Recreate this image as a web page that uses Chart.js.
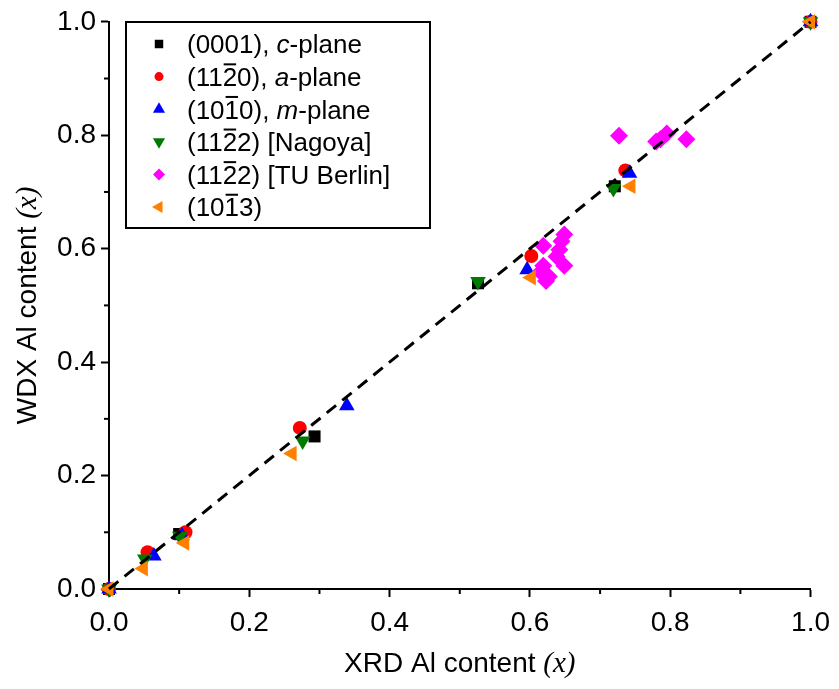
<!DOCTYPE html>
<html>
<head>
<meta charset="utf-8">
<script src="https://cdn.jsdelivr.net/npm/chart.js@4/dist/chart.umd.min.js"></script>
<style>
  html, body { margin: 0; padding: 0; background: #fff; }
</style>
</head>
<body>
<canvas id="chart" width="839" height="689"></canvas>
<script>
// XRD vs WDX Al content, one pair of arrays per orientation
const cPlaneX = [0, 0.100, 0.293, 0.526, 0.721, 1.0];
const cPlaneY = [0, 0.097, 0.269, 0.539, 0.710, 1.0];

const aPlaneX = [0, 0.055, 0.109, 0.272, 0.602, 0.736, 1.0];
const aPlaneY = [0, 0.065, 0.100, 0.284, 0.587, 0.738, 1.0];

const mPlaneX = [0, 0.064, 0.104, 0.339, 0.596, 0.742, 1.0];
const mPlaneY = [0, 0.058, 0.094, 0.323, 0.563, 0.733, 1.0];

const nagoyaX = [0, 0.051, 0.101, 0.276, 0.526, 0.719, 1.0];
const nagoyaY = [0, 0.053, 0.093, 0.261, 0.542, 0.706, 1.0];

const berlinX = [0.619, 0.649, 0.645, 0.642, 0.649, 0.619, 0.627, 0.615, 0.638, 0.623, 0.727, 0.780, 0.786, 0.795, 0.823];
const berlinY = [0.605, 0.625, 0.613, 0.598, 0.570, 0.570, 0.551, 0.559, 0.586, 0.543, 0.799, 0.789, 0.793, 0.803, 0.793];

const r1013X = [0, 0.049, 0.108, 0.261, 0.602, 0.744, 1.0];
const r1013Y = [0, 0.036, 0.081, 0.239, 0.549, 0.710, 1.0];

const guideX = [0, 1];
const guideY = [0, 1];

const xTitle = ['XRD Al content ', '(x)'];
const yTitle = ['WDX Al content ', '(x)'];

// legend text pieces: plain, italic (it) or overlined (ov)
const legendLabels = [
  [{ t: '(0001), ' }, { t: 'c', it: true }, { t: '-plane' }],
  [{ t: '(11' }, { t: '2', ov: true }, { t: '0), ' }, { t: 'a', it: true }, { t: '-plane' }],
  [{ t: '(10' }, { t: '1', ov: true }, { t: '0), ' }, { t: 'm', it: true }, { t: '-plane' }],
  [{ t: '(11' }, { t: '2', ov: true }, { t: '2) [Nagoya]' }],
  [{ t: '(11' }, { t: '2', ov: true }, { t: '2) [TU Berlin]' }],
  [{ t: '(10' }, { t: '1', ov: true }, { t: '3)' }]
];

const pairs = (xs, ys) => xs.map((x, i) => ({ x, y: ys[i] }));

const series = [
  { data: pairs(cPlaneX, cPlaneY), color: '#000000', style: 'rect', radius: 8.5, rot: 0, legR: 6 },
  { data: pairs(aPlaneX, aPlaneY), color: '#ff0000', style: 'circle', radius: 7, rot: 0, legR: 4.5 },
  { data: pairs(mPlaneX, mPlaneY), color: '#0000ff', style: 'triangle', radius: 9, rot: 0, legR: 7 },
  { data: pairs(nagoyaX, nagoyaY), color: '#007a00', style: 'triangle', radius: 9, rot: 180, legR: 7 },
  { data: pairs(berlinX, berlinY), color: '#ff00ff', style: 'rectRot', radius: 9, rot: 0, legR: 6 },
  { data: pairs(r1013X, r1013Y), color: '#ff8000', style: 'triangle', radius: 9, rot: 270, legR: 7 }
];

const SANS = '"Liberation Sans", Arial, sans-serif';
const SERIF = '"Liberation Serif", "Times New Roman", serif';

function marker(ctx, style, r, rot, x, y) {
  ctx.save();
  ctx.translate(x, y);
  ctx.rotate(rot * Math.PI / 180);
  ctx.beginPath();
  if (style === 'rect') {
    const s = r * Math.SQRT1_2;
    ctx.rect(-s, -s, 2 * s, 2 * s);
  } else if (style === 'circle') {
    ctx.arc(0, 0, r, 0, Math.PI * 2);
  } else if (style === 'triangle') {
    for (let k = 0; k < 3; k++) {
      const a = -Math.PI / 2 + k * 2 * Math.PI / 3;
      const px = Math.cos(a) * r, py = Math.sin(a) * r;
      k ? ctx.lineTo(px, py) : ctx.moveTo(px, py);
    }
    ctx.closePath();
  } else if (style === 'rectRot') {
    ctx.moveTo(0, -r); ctx.lineTo(r, 0); ctx.lineTo(0, r); ctx.lineTo(-r, 0);
    ctx.closePath();
  }
  ctx.fill();
  ctx.restore();
}

const extras = {
  id: 'extras',
  afterDraw(chart) {
    const ctx = chart.ctx;
    const xs = chart.scales.x, ys = chart.scales.y;
    ctx.save();

    // minor ticks
    ctx.strokeStyle = '#000';
    ctx.lineWidth = 2;
    [0.1, 0.3, 0.5, 0.7, 0.9].forEach(v => {
      const px = xs.getPixelForValue(v);
      ctx.beginPath(); ctx.moveTo(px, xs.top); ctx.lineTo(px, xs.top + 5); ctx.stroke();
      const py = ys.getPixelForValue(v);
      ctx.beginPath(); ctx.moveTo(ys.right, py); ctx.lineTo(ys.right - 5, py); ctx.stroke();
    });

    // axis titles with serif (x)
    const title = (parts, cx, cy, angle) => {
      ctx.save();
      ctx.translate(cx, cy);
      ctx.rotate(angle);
      ctx.fillStyle = '#000';
      ctx.textBaseline = 'middle';
      ctx.font = '28px ' + SANS;
      const w1 = ctx.measureText(parts[0]).width;
      ctx.font = 'italic 29px ' + SERIF;
      const w2 = ctx.measureText(parts[1]).width;
      let x0 = -(w1 + w2) / 2;
      ctx.font = '28px ' + SANS;
      ctx.fillText(parts[0], x0, 0);
      ctx.font = 'italic 29px ' + SERIF;
      ctx.fillText(parts[1], x0 + w1, 0);
      ctx.restore();
    };
    title(xTitle, (xs.left + xs.right) / 2, 664, 0);
    title(yTitle, 28, (ys.top + ys.bottom) / 2, -Math.PI / 2);

    // legend box
    const bx = 126, by = 22, bw = 304, bh = 206;
    ctx.fillStyle = '#fff';
    ctx.fillRect(bx, by, bw, bh);
    ctx.strokeStyle = '#000';
    ctx.lineWidth = 2;
    ctx.strokeRect(bx, by, bw, bh);

    const fs = 26;
    legendLabels.forEach((parts, i) => {
      const rowY = 44 + i * 32.6;
      const s = series[i];
      ctx.fillStyle = s.color;
      marker(ctx, s.style, s.legR, s.rot, 159, rowY);
      ctx.fillStyle = '#000';
      ctx.strokeStyle = '#000';
      ctx.textBaseline = 'alphabetic';
      const base = rowY + 0.36 * fs;
      let tx = 187;
      parts.forEach(p => {
        ctx.font = (p.it ? 'italic ' : '') + fs + 'px ' + SANS;
        ctx.fillText(p.t, tx, base);
        const w = ctx.measureText(p.t).width;
        if (p.ov) {
          ctx.lineWidth = 2;
          ctx.beginPath();
          ctx.moveTo(tx + 1, base - 0.716 * fs - 3);
          ctx.lineTo(tx + w - 1, base - 0.716 * fs - 3);
          ctx.stroke();
        }
        tx += w;
      });
    });
    ctx.restore();
  }
};

const datasets = series.map((s, i) => ({
  type: 'scatter',
  data: s.data,
  pointStyle: s.style,
  pointRadius: s.radius,
  pointHoverRadius: s.radius,
  pointRotation: s.rot,
  pointBackgroundColor: s.color,
  pointBorderWidth: 0,
  borderColor: s.color,
  showLine: false,
  clip: false,
  order: 10 - i
}));

datasets.push({
  type: 'line',
  data: pairs(guideX, guideY),
  borderColor: '#000',
  borderWidth: 3,
  borderDash: [12, 8],
  pointRadius: 0,
  fill: false,
  clip: false,
  order: 0
});

const axisCommon = {
  type: 'linear',
  min: 0,
  max: 1,
  border: { display: true, color: '#000', width: 2 },
  grid: { display: true, drawOnChartArea: false, drawTicks: true, tickLength: 8, tickWidth: 2, tickColor: '#000' },
  title: { display: false }
};

new Chart(document.getElementById('chart'), {
  data: { datasets },
  options: {
    responsive: false,
    animation: false,
    events: [],
    layout: { padding: { top: 19, right: 22, left: 0, bottom: 0 } },
    plugins: { legend: { display: false }, tooltip: { enabled: false } },
    scales: {
      x: {
        ...axisCommon,
        position: 'bottom',
        afterFit: s => { s.height = 100; },
        ticks: {
          stepSize: 0.2, padding: 9, color: '#000',
          font: { family: SANS, size: 28 },
          maxRotation: 0,
          callback: v => v.toFixed(1)
        }
      },
      y: {
        ...axisCommon,
        position: 'left',
        afterFit: s => { s.width = 109; },
        ticks: {
          stepSize: 0.2, padding: 5, color: '#000',
          font: { family: SANS, size: 28 },
          callback: v => v.toFixed(1)
        }
      }
    }
  },
  plugins: [extras]
});
</script>
</body>
</html>
